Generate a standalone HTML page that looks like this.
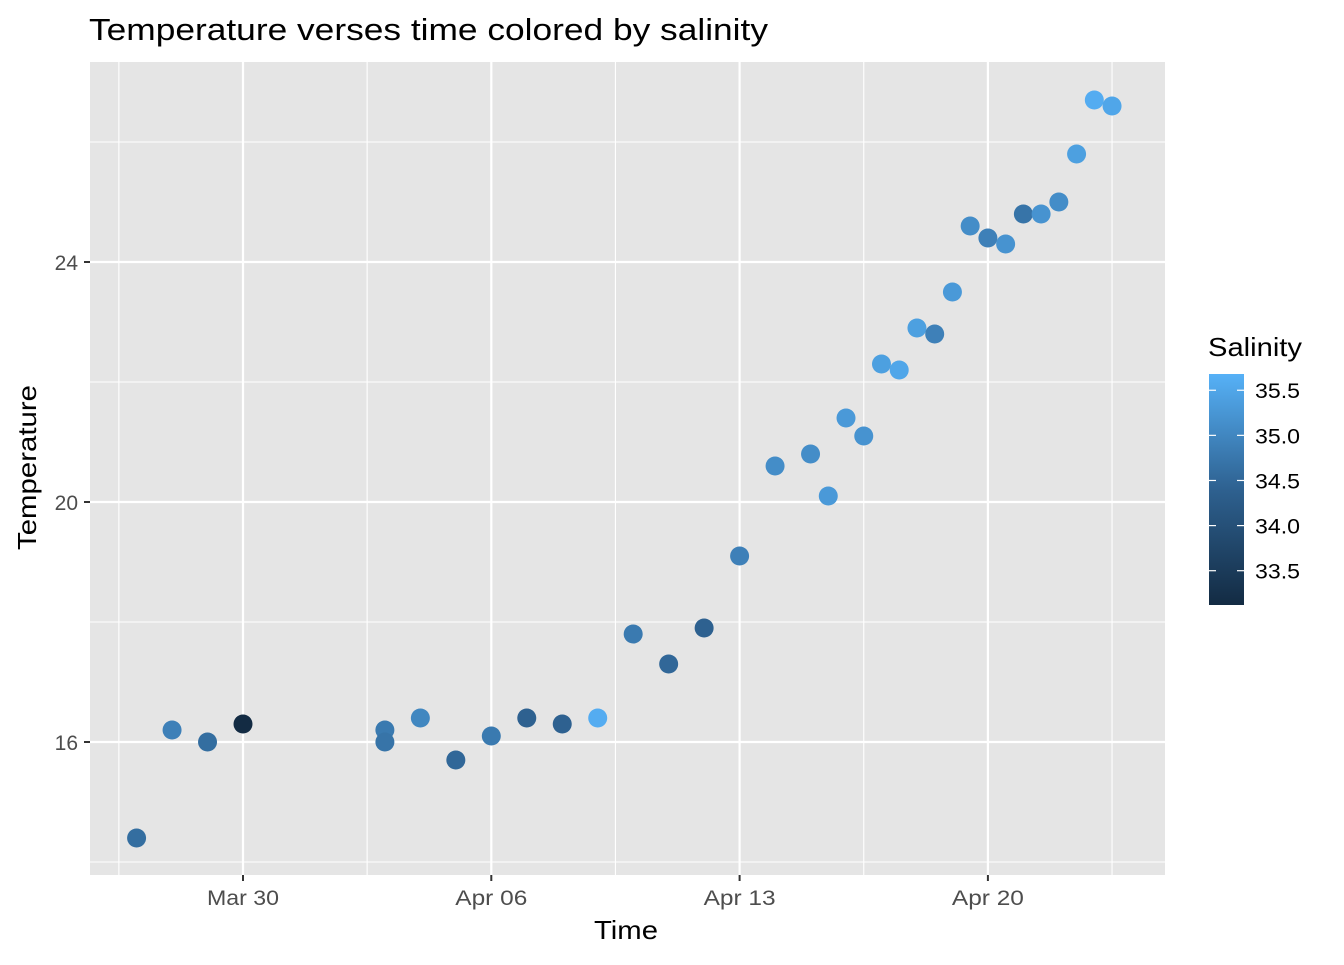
<!DOCTYPE html>
<html><head><meta charset="utf-8"><style>
body{margin:0;background:#fff;font-family:"Liberation Sans",Arial,sans-serif}
svg text{font-family:"Liberation Sans",Arial,sans-serif}
</style></head><body>
<svg id="c" width="1344" height="960" xmlns="http://www.w3.org/2000/svg">
<defs><linearGradient id="g" x1="0" y1="1" x2="0" y2="0">
<stop offset="0" stop-color="#132B43"/><stop offset="0.5" stop-color="#2E6190"/><stop offset="1" stop-color="#56B1F7"/></linearGradient></defs>
<text x="89" y="40" font-size="31" textLength="679" lengthAdjust="spacingAndGlyphs" fill="#000">Temperature verses time colored by salinity</text>
<rect x="90" y="62" width="1075" height="813" fill="#E5E5E5"/>
<g id="grid"></g><g id="pts"></g><g id="axes"></g>
<text x="594" y="939" font-size="26" textLength="64" lengthAdjust="spacingAndGlyphs">Time</text>
<text transform="translate(36,550) rotate(-90)" font-size="26" textLength="165" lengthAdjust="spacingAndGlyphs">Temperature</text>
<text x="1208" y="356" font-size="26" textLength="94" lengthAdjust="spacingAndGlyphs">Salinity</text>
<rect x="1209" y="374" width="35" height="231" fill="url(#g)"/>
<g id="leg"></g>
</svg>
<script>
const dayVals=[-3,-2,-1,0,4,4,5,6,7,8,9,10,11,12,13,14,15,16,16.5,17,17.5,18,18.5,19,19.5,20,20.5,21,21.5,22,22.5,23,23.5,24,24.5];
const temps=[14.4,16.2,16.0,16.3,16.2,16.0,16.4,15.7,16.1,16.4,16.3,16.4,17.8,17.3,17.9,19.1,20.6,20.8,20.1,21.4,21.1,22.3,22.2,22.9,22.8,23.5,24.6,24.4,24.3,24.8,24.8,25.0,25.8,26.7,26.6];
const salinity=[34.6,34.9,34.6,33.1,34.8,34.7,35.0,34.5,34.8,34.4,34.4,35.6,34.8,34.5,34.4,34.9,35.1,35.1,35.3,35.3,35.2,35.4,35.5,35.4,34.9,35.3,35.1,34.9,35.2,34.7,35.2,35.1,35.4,35.6,35.5];
const xTickLabels=["Mar 30","Apr 06","Apr 13","Apr 20"];
const xTickDays=[0,7,14,21];
const yTicks=[16,20,24];
const legTicks=[33.5,34.0,34.5,35.0,35.5];
const NS="http://www.w3.org/2000/svg";
const X=d=>243+(d)*248.3/7, Y=t=>742-(t-16)*60;
const L=s=>605-(s-33.12)*(231/2.56);
function mk(tag,at,par){const e=document.createElementNS(NS,tag);for(const k in at)e.setAttribute(k,at[k]);document.getElementById(par).appendChild(e);return e;}
function lerp(a,b,t){return Math.round(a+(b-a)*t);}
function col(s){let t=Math.max(0,Math.min(1,(s-33.12)/2.56));
 const c0=[19,43,67],c1=[46,97,144],c2=[86,177,247];let a,b,u;
 if(t<0.5){a=c0;b=c1;u=t*2}else{a=c1;b=c2;u=(t-0.5)*2}
 return `rgb(${lerp(a[0],b[0],u)},${lerp(a[1],b[1],u)},${lerp(a[2],b[2],u)})`;}
for(let v=14;v<=26;v+=2){const g=mk('line',{x1:90,x2:1165,y1:Y(v),y2:Y(v),stroke:'#fff','stroke-width':yTicks.includes(v)?2.2:1.1},'grid');

}
for(let d=-3.5;d<=25;d+=3.5){const g=mk('line',{x1:X(d),x2:X(d),y1:62,y2:875,stroke:'#fff','stroke-width':(d%7===0)?2.2:1.1},'grid');

}
for(let i=0;i<temps.length;i++){const c=mk('circle',{cx:X(dayVals[i]),cy:Y(temps[i]),r:9.5,fill:col(salinity[i])},'pts');

}
xTickDays.forEach((d,i)=>{mk('line',{x1:X(d),x2:X(d),y1:875,y2:881,stroke:'#333','stroke-width':2},'axes');
const t=mk('text',{x:X(d),y:905,'font-size':21,'text-anchor':'middle',fill:'#4D4D4D',textLength:72,lengthAdjust:'spacingAndGlyphs'},'axes');t.textContent=xTickLabels[i];

});
yTicks.forEach(v=>{mk('line',{x1:84,x2:90,y1:Y(v),y2:Y(v),stroke:'#333','stroke-width':2},'axes');
const t=mk('text',{x:78,y:Y(v)+8,'font-size':21,'text-anchor':'end',fill:'#4D4D4D'},'axes');t.textContent=v;

});
legTicks.forEach(v=>{const y=L(v);
mk('line',{x1:1209,x2:1216,y1:y,y2:y,stroke:'#fff','stroke-width':1.2},'leg');
mk('line',{x1:1237,x2:1244,y1:y,y2:y,stroke:'#fff','stroke-width':1.2},'leg');
const t=mk('text',{x:1255,y:y+8,'font-size':21,fill:'#000',textLength:45,lengthAdjust:'spacingAndGlyphs'},'leg');t.textContent=v.toFixed(1);

});
</script>
</body></html>
